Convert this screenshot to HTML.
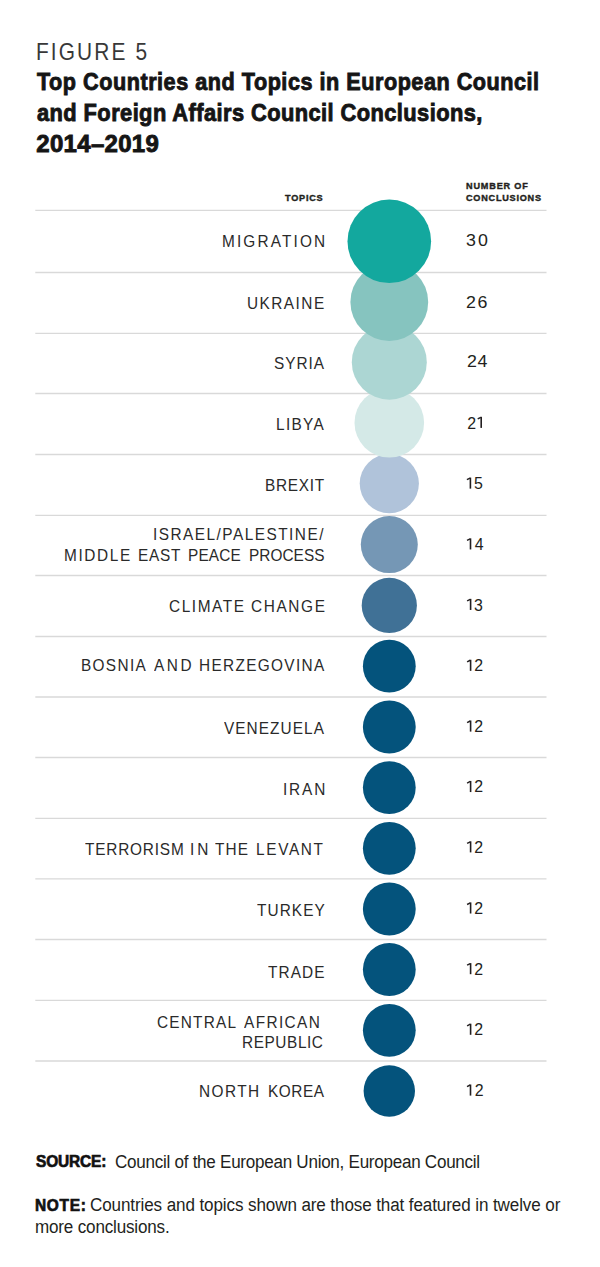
<!DOCTYPE html>
<html><head><meta charset="utf-8">
<style>
html,body{margin:0;padding:0;background:#fff;}
body{width:600px;height:1267px;position:relative;overflow:hidden;font-family:"Liberation Sans",sans-serif;color:#231f20;}
.a{position:absolute;white-space:nowrap;line-height:1;}
.a span{display:inline-block;transform-origin:0 0;}
.b{font-weight:bold;}
svg{position:absolute;left:0;top:0;}
</style></head><body>
<svg width="600" height="1267" viewBox="0 0 600 1267">
<g stroke="#d9d9d9" stroke-width="1.3">
<line x1="35.3" x2="546.5" y1="210.4" y2="210.4"/>
<line x1="35.3" x2="546.5" y1="272.5" y2="272.5"/>
<line x1="35.3" x2="546.5" y1="333.4" y2="333.4"/>
<line x1="35.3" x2="546.5" y1="393.5" y2="393.5"/>
<line x1="35.3" x2="546.5" y1="454.5" y2="454.5"/>
<line x1="35.3" x2="546.5" y1="515.4" y2="515.4"/>
<line x1="35.3" x2="546.5" y1="575.5" y2="575.5"/>
<line x1="35.3" x2="546.5" y1="636.5" y2="636.5"/>
<line x1="35.3" x2="546.5" y1="697.0" y2="697.0"/>
<line x1="35.3" x2="546.5" y1="757.5" y2="757.5"/>
<line x1="35.3" x2="546.5" y1="818.3" y2="818.3"/>
<line x1="35.3" x2="546.5" y1="878.9" y2="878.9"/>
<line x1="35.3" x2="546.5" y1="939.5" y2="939.5"/>
<line x1="35.3" x2="546.5" y1="1000.4" y2="1000.4"/>
<line x1="35.3" x2="546.5" y1="1061.0" y2="1061.0"/>
</g>
<circle cx="389.3" cy="1091.0" r="25.7" fill="#04537c"/>
<circle cx="389.3" cy="1030.3" r="26.4" fill="#04537c"/>
<circle cx="389.3" cy="969.5" r="26.4" fill="#04537c"/>
<circle cx="389.3" cy="909.0" r="26.4" fill="#04537c"/>
<circle cx="389.3" cy="848.3" r="26.4" fill="#04537c"/>
<circle cx="389.3" cy="787.6" r="26.4" fill="#04537c"/>
<circle cx="389.3" cy="727.0" r="26.4" fill="#04537c"/>
<circle cx="389.3" cy="666.2" r="26.4" fill="#04537c"/>
<circle cx="389.3" cy="605.4" r="27.6" fill="#407196"/>
<circle cx="389.3" cy="544.6" r="28.5" fill="#7597b5"/>
<circle cx="389.3" cy="483.6" r="29.6" fill="#b0c3da"/>
<circle cx="389.3" cy="422.8" r="34.8" fill="#d4e9e7"/>
<circle cx="389.3" cy="362.2" r="37.5" fill="#acd6d3"/>
<circle cx="389.3" cy="302.0" r="38.9" fill="#86c4bf"/>
<circle cx="389.3" cy="241.3" r="41.8" fill="#13a89e"/>
<rect x="480.40" y="416.80" width="1.6" height="11.10" fill="#231f20"/>
<line x1="477.70" y1="418.90" x2="480.90" y2="417.30" stroke="#231f20" stroke-width="1.5"/>
<rect x="469.60" y="477.55" width="1.6" height="11.10" fill="#231f20"/>
<line x1="466.90" y1="479.65" x2="470.10" y2="478.05" stroke="#231f20" stroke-width="1.5"/>
<rect x="469.70" y="538.35" width="1.6" height="11.10" fill="#231f20"/>
<line x1="467.00" y1="540.45" x2="470.20" y2="538.85" stroke="#231f20" stroke-width="1.5"/>
<rect x="469.80" y="598.85" width="1.6" height="11.10" fill="#231f20"/>
<line x1="467.10" y1="600.95" x2="470.30" y2="599.35" stroke="#231f20" stroke-width="1.5"/>
<rect x="469.80" y="659.75" width="1.6" height="11.10" fill="#231f20"/>
<line x1="467.10" y1="661.85" x2="470.30" y2="660.25" stroke="#231f20" stroke-width="1.5"/>
<rect x="469.80" y="720.50" width="1.6" height="11.10" fill="#231f20"/>
<line x1="467.10" y1="722.60" x2="470.30" y2="721.00" stroke="#231f20" stroke-width="1.5"/>
<rect x="469.80" y="780.95" width="1.6" height="11.10" fill="#231f20"/>
<line x1="467.10" y1="783.05" x2="470.30" y2="781.45" stroke="#231f20" stroke-width="1.5"/>
<rect x="469.80" y="841.30" width="1.6" height="11.10" fill="#231f20"/>
<line x1="467.10" y1="843.40" x2="470.30" y2="841.80" stroke="#231f20" stroke-width="1.5"/>
<rect x="469.80" y="902.40" width="1.6" height="11.10" fill="#231f20"/>
<line x1="467.10" y1="904.50" x2="470.30" y2="902.90" stroke="#231f20" stroke-width="1.5"/>
<rect x="469.80" y="963.10" width="1.6" height="11.10" fill="#231f20"/>
<line x1="467.10" y1="965.20" x2="470.30" y2="963.60" stroke="#231f20" stroke-width="1.5"/>
<rect x="469.80" y="1023.70" width="1.6" height="11.10" fill="#231f20"/>
<line x1="467.10" y1="1025.80" x2="470.30" y2="1024.20" stroke="#231f20" stroke-width="1.5"/>
<rect x="469.70" y="1084.50" width="1.6" height="11.10" fill="#231f20"/>
<line x1="467.00" y1="1086.60" x2="470.20" y2="1085.00" stroke="#231f20" stroke-width="1.5"/>
</svg>
<div class="a" id="fig" style="left:35.80px;top:40.90px;font-size:23.2px;color:#383838;"><span style="letter-spacing:2.345px;transform:scaleX(0.9000);">FIGURE 5</span></div>
<div class="a b" id="t1" style="left:36.70px;top:69.70px;font-size:24px;color:#151515;-webkit-text-stroke:0.9px currentColor;"><span style="letter-spacing:0.592px;transform:scaleX(0.9000);">Top Countries and Topics in European Council</span></div>
<div class="a b" id="t2" style="left:36.70px;top:101.00px;font-size:24px;color:#151515;-webkit-text-stroke:0.9px currentColor;"><span style="letter-spacing:0.468px;transform:scaleX(0.9100);">and Foreign Affairs Council Conclusions,</span></div>
<div class="a b" id="t3" style="left:36.25px;top:132.20px;font-size:24px;color:#151515;-webkit-text-stroke:0.9px currentColor;"><span style="letter-spacing:0.312px;">2014–2019</span></div>
<div class="a b" id="h1" style="left:284.60px;top:192.90px;font-size:9.6px;-webkit-text-stroke:0.4px currentColor;"><span style="letter-spacing:0.819px;transform:scaleX(0.9500);">TOPICS</span></div>
<div class="a b" id="h2" style="left:466.00px;top:181.05px;font-size:9.6px;-webkit-text-stroke:0.4px currentColor;"><span style="letter-spacing:0.877px;transform:scaleX(0.9500);">NUMBER OF</span></div>
<div class="a b" id="h3" style="left:466.00px;top:193.30px;font-size:9.6px;-webkit-text-stroke:0.4px currentColor;"><span style="letter-spacing:0.803px;transform:scaleX(0.9500);">CONCLUSIONS</span></div>
<div class="a" id="L0" style="left:222.30px;top:232.55px;font-size:17.3px;color:#2a2a2a;"><span style="letter-spacing:2.398px;word-spacing:3.5px;transform:scaleX(0.8900);">MIGRATION</span></div>
<div class="a" id="L1" style="left:247.20px;top:294.90px;font-size:17.3px;color:#2a2a2a;"><span style="letter-spacing:1.648px;word-spacing:3.5px;transform:scaleX(0.8900);">UKRAINE</span></div>
<div class="a" id="L2" style="left:274.00px;top:355.30px;font-size:17.3px;color:#2a2a2a;"><span style="letter-spacing:1.050px;word-spacing:3.5px;transform:scaleX(0.8900);">SYRIA</span></div>
<div class="a" id="L3" style="left:276.40px;top:416.00px;font-size:17.3px;color:#2a2a2a;"><span style="letter-spacing:1.485px;word-spacing:3.5px;transform:scaleX(0.8900);">LIBYA</span></div>
<div class="a" id="L4" style="left:265.00px;top:477.00px;font-size:17.3px;color:#2a2a2a;"><span style="letter-spacing:0.827px;word-spacing:3.5px;transform:scaleX(0.8900);">BREXIT</span></div>
<div class="a" id="L5" style="left:153.25px;top:526.40px;font-size:17.3px;color:#2a2a2a;"><span style="letter-spacing:1.664px;word-spacing:3.5px;transform:scaleX(0.8900);">ISRAEL/PALESTINE/</span></div>
<div class="a" id="L6w0" style="left:63.60px;top:546.60px;font-size:17.3px;color:#2a2a2a;"><span style="letter-spacing:1.843px;transform:scaleX(0.8900);">MIDDLE</span></div>
<div class="a" id="L6w1" style="left:137.80px;top:546.60px;font-size:17.3px;color:#2a2a2a;"><span style="letter-spacing:0.794px;transform:scaleX(0.8900);">EAST</span></div>
<div class="a" id="L6w2" style="left:188.20px;top:546.60px;font-size:17.3px;color:#2a2a2a;"><span style="letter-spacing:0.186px;transform:scaleX(0.8900);">PEACE</span></div>
<div class="a" id="L6w3" style="left:248.80px;top:546.60px;font-size:17.3px;color:#2a2a2a;"><span style="letter-spacing:0.045px;transform:scaleX(0.8900);">PROCESS</span></div>
<div class="a" id="L7w0" style="left:168.60px;top:598.20px;font-size:17.3px;color:#2a2a2a;"><span style="letter-spacing:1.762px;transform:scaleX(0.8900);">CLIMATE</span></div>
<div class="a" id="L7w1" style="left:251.00px;top:598.20px;font-size:17.3px;color:#2a2a2a;"><span style="letter-spacing:1.818px;transform:scaleX(0.8900);">CHANGE</span></div>
<div class="a" id="L8w0" style="left:80.80px;top:657.40px;font-size:17.3px;color:#2a2a2a;"><span style="letter-spacing:1.490px;transform:scaleX(0.8900);">BOSNIA</span></div>
<div class="a" id="L8w1" style="left:154.00px;top:657.40px;font-size:17.3px;color:#2a2a2a;"><span style="letter-spacing:2.895px;transform:scaleX(0.8900);">AND</span></div>
<div class="a" id="L8w2" style="left:198.80px;top:657.40px;font-size:17.3px;color:#2a2a2a;"><span style="letter-spacing:1.490px;transform:scaleX(0.8900);">HERZEGOVINA</span></div>
<div class="a" id="L9" style="left:224.05px;top:720.10px;font-size:17.3px;color:#2a2a2a;"><span style="letter-spacing:1.184px;word-spacing:3.5px;transform:scaleX(0.8900);">VENEZUELA</span></div>
<div class="a" id="L10" style="left:282.60px;top:781.30px;font-size:17.3px;color:#2a2a2a;"><span style="letter-spacing:2.077px;word-spacing:3.5px;transform:scaleX(0.8900);">IRAN</span></div>
<div class="a" id="L11w0" style="left:84.80px;top:840.50px;font-size:17.3px;color:#2a2a2a;"><span style="letter-spacing:0.901px;transform:scaleX(0.8900);">TERRORISM</span></div>
<div class="a" id="L11w1" style="left:190.20px;top:840.50px;font-size:17.3px;color:#2a2a2a;"><span style="letter-spacing:3.219px;transform:scaleX(0.8900);">IN</span></div>
<div class="a" id="L11w2" style="left:215.40px;top:840.50px;font-size:17.3px;color:#2a2a2a;"><span style="letter-spacing:1.252px;transform:scaleX(0.8900);">THE</span></div>
<div class="a" id="L11w3" style="left:255.80px;top:840.50px;font-size:17.3px;color:#2a2a2a;"><span style="letter-spacing:1.870px;transform:scaleX(0.8900);">LEVANT</span></div>
<div class="a" id="L12" style="left:256.90px;top:902.30px;font-size:17.3px;color:#2a2a2a;"><span style="letter-spacing:1.197px;word-spacing:3.5px;transform:scaleX(0.8900);">TURKEY</span></div>
<div class="a" id="L13" style="left:268.30px;top:964.30px;font-size:17.3px;color:#2a2a2a;"><span style="letter-spacing:1.206px;word-spacing:3.5px;transform:scaleX(0.8900);">TRADE</span></div>
<div class="a" id="L14w0" style="left:156.60px;top:1013.60px;font-size:17.3px;color:#2a2a2a;"><span style="letter-spacing:1.366px;transform:scaleX(0.8900);">CENTRAL</span></div>
<div class="a" id="L14w1" style="left:244.00px;top:1013.60px;font-size:17.3px;color:#2a2a2a;"><span style="letter-spacing:1.554px;transform:scaleX(0.8900);">AFRICAN</span></div>
<div class="a" id="L15" style="left:242.10px;top:1033.70px;font-size:17.3px;color:#2a2a2a;"><span style="letter-spacing:0.650px;word-spacing:3.5px;transform:scaleX(0.8900);">REPUBLIC</span></div>
<div class="a" id="L16w0" style="left:199.00px;top:1082.55px;font-size:17.3px;color:#2a2a2a;"><span style="letter-spacing:1.624px;transform:scaleX(0.8900);">NORTH</span></div>
<div class="a" id="L16w1" style="left:268.00px;top:1082.55px;font-size:17.3px;color:#2a2a2a;"><span style="letter-spacing:0.641px;transform:scaleX(0.8900);">KOREA</span></div>
<div class="a" id="N0" style="left:465.50px;top:232.40px;font-size:16.2px;"><span style="letter-spacing:1.864px;transform:scaleX(1.1000);">30</span></div>
<div class="a" id="N1" style="left:465.90px;top:293.50px;font-size:16.2px;"><span style="letter-spacing:1.409px;transform:scaleX(1.1000);">26</span></div>
<div class="a" id="N2" style="left:467.20px;top:353.30px;font-size:16.2px;"><span style="letter-spacing:0.500px;transform:scaleX(1.1000);">24</span></div>
<div class="a" id="N3" style="left:467.30px;top:415.50px;font-size:15.9px;"><span style="letter-spacing:0.000px;">2</span></div>
<div class="a" id="N4" style="left:473.90px;top:475.90px;font-size:15.9px;"><span style="letter-spacing:0.000px;">5</span></div>
<div class="a" id="N5" style="left:474.70px;top:537.15px;font-size:15.9px;"><span style="letter-spacing:0.000px;">4</span></div>
<div class="a" id="N6" style="left:474.10px;top:597.50px;font-size:15.9px;"><span style="letter-spacing:0.000px;">3</span></div>
<div class="a" id="N7" style="left:474.30px;top:657.90px;font-size:15.9px;"><span style="letter-spacing:0.000px;">2</span></div>
<div class="a" id="N8" style="left:474.30px;top:719.15px;font-size:15.9px;"><span style="letter-spacing:0.000px;">2</span></div>
<div class="a" id="N9" style="left:474.30px;top:779.10px;font-size:15.9px;"><span style="letter-spacing:0.000px;">2</span></div>
<div class="a" id="N10" style="left:474.30px;top:839.60px;font-size:15.9px;"><span style="letter-spacing:0.000px;">2</span></div>
<div class="a" id="N11" style="left:474.30px;top:901.10px;font-size:15.9px;"><span style="letter-spacing:0.000px;">2</span></div>
<div class="a" id="N12" style="left:474.30px;top:962.00px;font-size:15.9px;"><span style="letter-spacing:0.000px;">2</span></div>
<div class="a" id="N13" style="left:474.30px;top:1022.40px;font-size:15.9px;"><span style="letter-spacing:0.000px;">2</span></div>
<div class="a" id="N14" style="left:474.70px;top:1083.30px;font-size:15.9px;"><span style="letter-spacing:0.000px;">2</span></div>
<div class="a b" id="f1" style="left:36.20px;top:1153.46px;font-size:17.2px;color:#111;-webkit-text-stroke:0.7px currentColor;"><span style="letter-spacing:-0.175px;transform:scaleX(0.9000);">SOURCE:</span></div>
<div class="a" id="f2" style="left:115.10px;top:1153.70px;font-size:17.6px;"><span style="letter-spacing:-0.279px;transform:scaleX(0.9700);">Council of the European Union, European Council</span></div>
<div class="a b" id="f3" style="left:35.20px;top:1197.06px;font-size:17.2px;color:#111;-webkit-text-stroke:0.7px currentColor;"><span style="letter-spacing:0.768px;transform:scaleX(0.9000);">NOTE:</span></div>
<div class="a" id="f4" style="left:90.00px;top:1197.10px;font-size:17.6px;"><span style="letter-spacing:-0.114px;transform:scaleX(0.9700);">Countries and topics shown are those that featured in twelve or</span></div>
<div class="a" id="f5" style="left:35.20px;top:1218.50px;font-size:17.6px;"><span style="letter-spacing:-0.183px;transform:scaleX(0.9700);">more conclusions.</span></div>
</body></html>
